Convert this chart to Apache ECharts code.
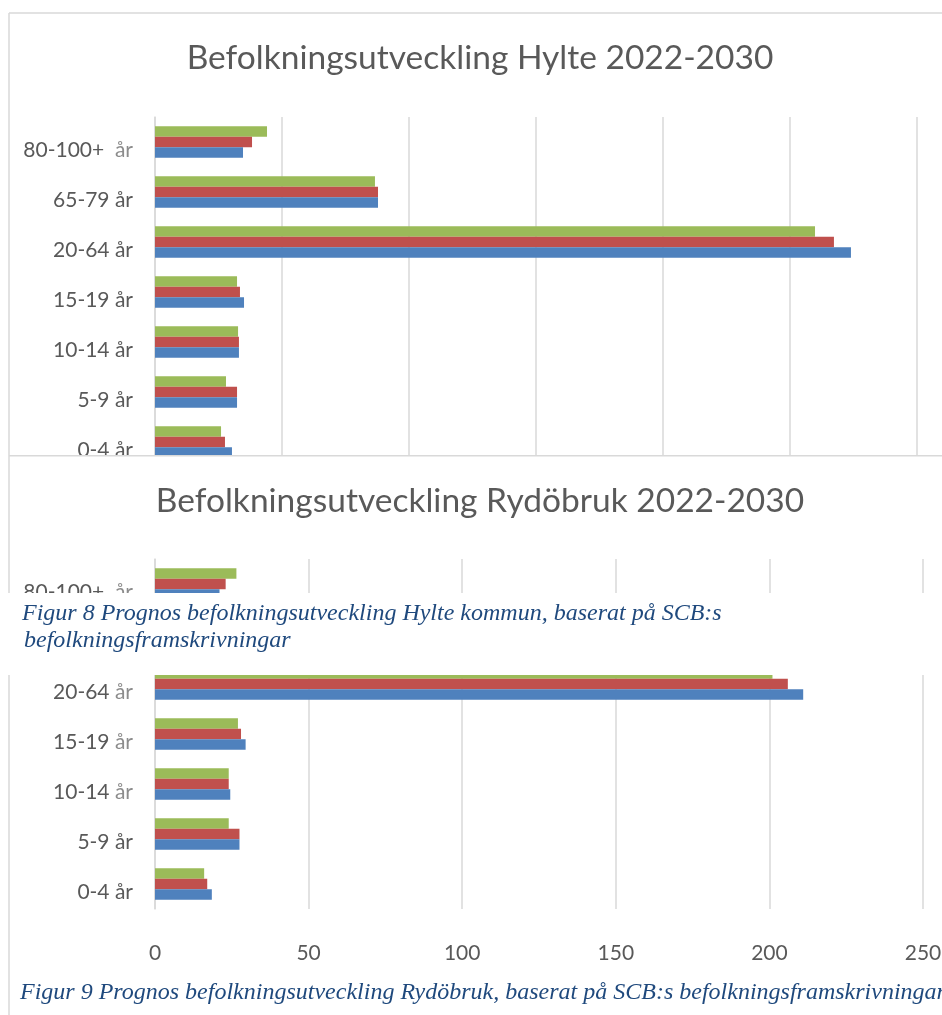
<!DOCTYPE html>
<html><head><meta charset="utf-8">
<script src="https://cdn.jsdelivr.net/npm/echarts@6/dist/echarts.min.js"></script>
<style>
html,body{margin:0;padding:0;background:#fff;overflow:hidden;width:942px;height:1015px;}
#c1wrap{position:absolute;left:0;top:0;width:942px;height:455px;overflow:hidden;}
#c1{position:absolute;left:0;top:0;width:960px;height:600px;}
#c2wrap{position:absolute;left:0;top:455px;width:942px;height:560px;overflow:hidden;}
#c2{position:absolute;left:0;top:0;width:960px;height:560px;}
</style></head><body>
<div id="c1wrap"><div id="c1"></div></div>
<div id="c2wrap"><div id="c2"></div></div>
<script>
// Age groups (bottom to top)
const categories = ['0-4 år', '5-9 år', '10-14 år', '15-19 år', '20-64 år', '65-79 år', '80-100+  år'];
const seriesNames = ['2022', '2026', '2030'];
// Hylte kommun
const hylte2022 = [606, 646, 661, 701, 5480, 1756, 693];
const hylte2026 = [551, 646, 661, 669, 5346, 1756, 764];
const hylte2030 = [520, 559, 654, 646, 5197, 1732, 882];
// Rydöbruk
const rydo2022 = [18.5, 27.5, 24.5, 29.5, 211, 74, 21];
const rydo2026 = [17, 27.5, 24, 28, 206, 72, 23];
const rydo2030 = [16, 24, 24, 27, 201, 70, 26.5];
// Axis ticks
const hylteAxis = { min: 0, max: 6000, interval: 1000 };
const rydoAxis = { min: 0, max: 250, interval: 50 };
const titles = ['Befolkningsutveckling Hylte 2022-2030', 'Befolkningsutveckling Rydöbruk 2022-2030'];
const captions = [
  'Figur 8 Prognos befolkningsutveckling Hylte kommun, baserat på SCB:s',
  'befolkningsframskrivningar',
  'Figur 9 Prognos befolkningsutveckling Rydöbruk, baserat på SCB:s befolkningsframskrivningar'
];

const colors = ['#4F81BD', '#C0504D', '#9BBB59'];
const FONT = 'Lato';
const GRID = '#d9d9d9';
const TXT = '#595959';
const CAPFONT = 'italic 24px "Liberation Serif"';

function barSeries(dataArr) {
  // ECharts places the first series at the top of a horizontal band; reverse so 2022 sits at the bottom
  return dataArr.map((d, i) => ({
    name: seriesNames[i], type: 'bar', data: d,
    itemStyle: { color: colors[i] },
    barGap: '0%', barCategoryGap: '37%'
  })).reverse();
}

function axes(range, lightIdx) {
  return {
    xAxis: {
      type: 'value', min: range.min, max: range.max, interval: range.interval,
      axisLine: { show: false }, axisTick: { show: false },
      splitLine: { lineStyle: { color: GRID, width: 1.5 } },
      axisLabel: { color: TXT, fontSize: 21, fontFamily: FONT, margin: 34 }
    },
    yAxis: {
      type: 'category', data: categories,
      axisLine: { show: true, lineStyle: { color: GRID, width: 1.5 } },
      axisTick: { show: false },
      axisLabel: {
        color: TXT, fontSize: 21, fontFamily: FONT, margin: 22, padding: [16, 0, 0, 0],
        formatter: function (v, idx) {
          if (lightIdx.indexOf(idx) < 0) return v;
          const k = v.lastIndexOf('år');
          return v.slice(0, k) + '{l|år}';
        },
        rich: { l: { color: '#8c8c8c', fontSize: 21, fontFamily: FONT } }
      }
    }
  };
}

const c1 = echarts.init(document.getElementById('c1'));
c1.setOption(Object.assign({
  animation: false,
  title: { text: titles[0], left: 'center', top: 36,
    textStyle: { color: TXT, fontSize: 33.5, fontWeight: 'normal', fontFamily: FONT } },
  grid: { left: 155, top: 117, width: 762, height: 350 },
  series: barSeries([hylte2022, hylte2026, hylte2030]),
  graphic: [
    { type: 'line', z: 100, shape: { x1: 9, y1: 13, x2: 960, y2: 13 }, style: { stroke: GRID, lineWidth: 1.5 } },
    { type: 'line', z: 100, shape: { x1: 9, y1: 13, x2: 9, y2: 600 }, style: { stroke: GRID, lineWidth: 1.5 } }
  ]
}, axes(hylteAxis, [6])));

const c2 = echarts.init(document.getElementById('c2'));
c2.setOption(Object.assign({
  animation: false,
  title: { text: titles[1], left: 'center', top: 24,
    textStyle: { color: TXT, fontSize: 33.5, fontWeight: 'normal', fontFamily: FONT } },
  grid: { left: 155, top: 104, width: 768, height: 350 },
  series: barSeries([rydo2022, rydo2026, rydo2030]),
  graphic: [
    { type: 'line', z: 100, shape: { x1: 9, y1: 0.75, x2: 960, y2: 0.75 }, style: { stroke: GRID, lineWidth: 1.5 } },
    { type: 'line', z: 100, shape: { x1: 9, y1: 0, x2: 9, y2: 560 }, style: { stroke: GRID, lineWidth: 1.5 } },
    { type: 'rect', z: 100, shape: { x: 0, y: 138, width: 960, height: 82 }, style: { fill: '#ffffff' } },
    { type: 'text', z: 101, x: 22, y: 159, style: { text: captions[0], fill: '#1F497D', font: CAPFONT, textVerticalAlign: 'middle' } },
    { type: 'text', z: 101, x: 24, y: 186, style: { text: captions[1], fill: '#1F497D', font: CAPFONT, textVerticalAlign: 'middle' } },
    { type: 'text', z: 101, x: 20, y: 538, style: { text: captions[2], fill: '#1F497D', font: CAPFONT, textVerticalAlign: 'middle' } }
  ]
}, axes(rydoAxis, [2, 3, 4, 6])));
</script>
</body></html>
